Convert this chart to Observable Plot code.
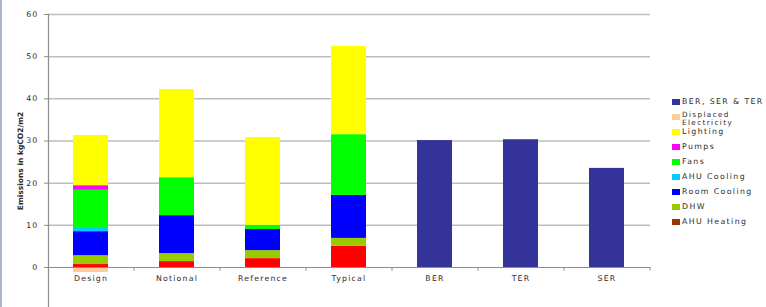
<!DOCTYPE html>
<html>
<head>
<meta charset="utf-8">
<script src="https://cdn.jsdelivr.net/npm/d3@7"></script>
<script src="https://cdn.jsdelivr.net/npm/@observablehq/plot@0.6"></script>
<style>
  html, body { margin: 0; padding: 0; background: #fff; }
  #wrap { position: relative; width: 766px; height: 307px; overflow: hidden; }
  #border { position: absolute; left: 0; top: 0; width: 2px; height: 307px; background: #aab6c2; }
  #legend { position: absolute; left: 672px; top: 0; font-family: "DejaVu Sans", sans-serif; font-size: 7.8px; letter-spacing: 1.4px; color: #2a2a2a; }
  .item { position: absolute; left: 0; white-space: nowrap; }
  .sw { position: absolute; left: 0; width: 8px; height: 6px; }
  .lb { position: absolute; left: 10px; line-height: 8px; }
  .lb.two { font-size: 7.2px; line-height: 8px; }
</style>
</head>
<body>
<div id="wrap"><div id="border"></div><div id="legend"></div></div>
<script>
const categories = ["Design", "Notional", "Reference", "Typical", "BER", "TER", "SER"];
const roomHeating = [0.7, 1.4, 2.1, 5.0, 0, 0, 0];
const ahuHeating = [0, 0, 0, 0, 0, 0, 0];
const dhw = [2.1, 1.9, 1.9, 1.9, 0, 0, 0];
const roomCooling = [5.7, 9.0, 5.0, 10.2, 0, 0, 0];
const ahuCooling = [1.0, 0, 0, 0, 0, 0, 0];
const fans = [8.8, 9.0, 1.0, 14.4, 0, 0, 0];
const pumps = [1.1, 0, 0, 0, 0, 0, 0];
const lighting = [11.9, 20.9, 20.8, 20.9, 0, 0, 0];
const displaced = [-1.2, 0, 0, 0, 0, 0, 0];
const ratings = [0, 0, 0, 0, 30.1, 30.3, 23.5];
const yTicks = [0, 10, 20, 30, 40, 50, 60];

const seriesNames = ["Room Heating", "AHU Heating", "DHW", "Room Cooling", "AHU Cooling", "Fans", "Pumps", "Lighting", "Displaced Electricity", "BER, SER & TER"];
const seriesValues = [roomHeating, ahuHeating, dhw, roomCooling, ahuCooling, fans, pumps, lighting, displaced, ratings];
const seriesColors = ["#ff0000", "#993300", "#99cc00", "#0000ff", "#00ccff", "#00ff00", "#ff00ff", "#ffff00", "#ffcc99", "#333399"];
const legendNames = ["BER, SER & TER", "Displaced\nElectricity", "Lighting", "Pumps", "Fans", "AHU Cooling", "Room Cooling", "DHW", "AHU Heating"];
const legendKeys = ["BER, SER & TER", "Displaced Electricity", "Lighting", "Pumps", "Fans", "AHU Cooling", "Room Cooling", "DHW", "AHU Heating"];

const data = [];
seriesNames.forEach((s, i) => categories.forEach((c, j) => data.push({category: c, series: s, value: seriesValues[i][j]})));

const chart = Plot.plot({
  width: 766, height: 307,
  marginLeft: 48, marginRight: 116, marginTop: 14, marginBottom: 0,
  style: {fontFamily: "DejaVu Sans, sans-serif", fontSize: "7.8px", letterSpacing: "1.2px", color: "#2a2a2a", background: "transparent", overflow: "visible"},
  x: {domain: categories, paddingInner: 0.59, paddingOuter: 0.295, axis: null},
  y: {domain: [-9.49, 60], axis: null},
  color: {domain: seriesNames, range: seriesColors},
  marks: [
    Plot.gridY(yTicks.slice(1), {stroke: "#bdbdbd", strokeOpacity: 1, strokeWidth: 1.5}),
    Plot.barY(data, {x: "category", y: "value", fill: "series", order: seriesNames}),
    Plot.ruleY([0], {stroke: "#8c8c8c", strokeWidth: 1.2}),
    Plot.axisY(yTicks, {anchor: "left", tickSize: 4, tickPadding: 6, stroke: "#8c8c8c", fill: "#2a2a2a", label: null}),
    Plot.axisY({anchor: "left", ticks: [], tickSize: 0, label: "Emissions in kgCO2/m2", labelAnchor: "center", labelOffset: 31, labelArrow: "none",
      fontSize: 7.5, fontWeight: "bold", fill: "#2a2a2a"}),
    Plot.frame({anchor: "left", stroke: "#8c8c8c", strokeWidth: 1.2}),
    Plot.ruleX(categories, {x: d => d, dx: 43, y1: 0, y2: -0.9, stroke: "#8c8c8c"}),
    Plot.text(categories, {x: d => d, y: 0, dy: 11, text: d => d, fill: "#2a2a2a"})
  ]
});
chart.querySelectorAll("[aria-label='y-axis label'] text, g[aria-label='y-axis label']").forEach(el => el.style.letterSpacing = "0px");
chart.style.position = "absolute";
chart.style.left = "0px";
chart.style.top = "0px";
document.getElementById("wrap").appendChild(chart);

const legend = document.getElementById("legend");
legendNames.forEach((name, i) => {
  const top = 99 + i * 15;
  const item = document.createElement("div");
  item.className = "item";
  item.style.top = top + "px";
  const sw = document.createElement("div");
  sw.className = "sw";
  sw.style.background = seriesColors[seriesNames.indexOf(legendKeys[i])];
  const lb = document.createElement("div");
  const two = name.includes("\n");
  lb.className = two ? "lb two" : "lb";
  lb.style.top = two ? "-3px" : "-1px";
  lb.innerHTML = name.replace("\n", "<br>");
  item.appendChild(sw);
  item.appendChild(lb);
  legend.appendChild(item);
});
</script>
</body>
</html>
